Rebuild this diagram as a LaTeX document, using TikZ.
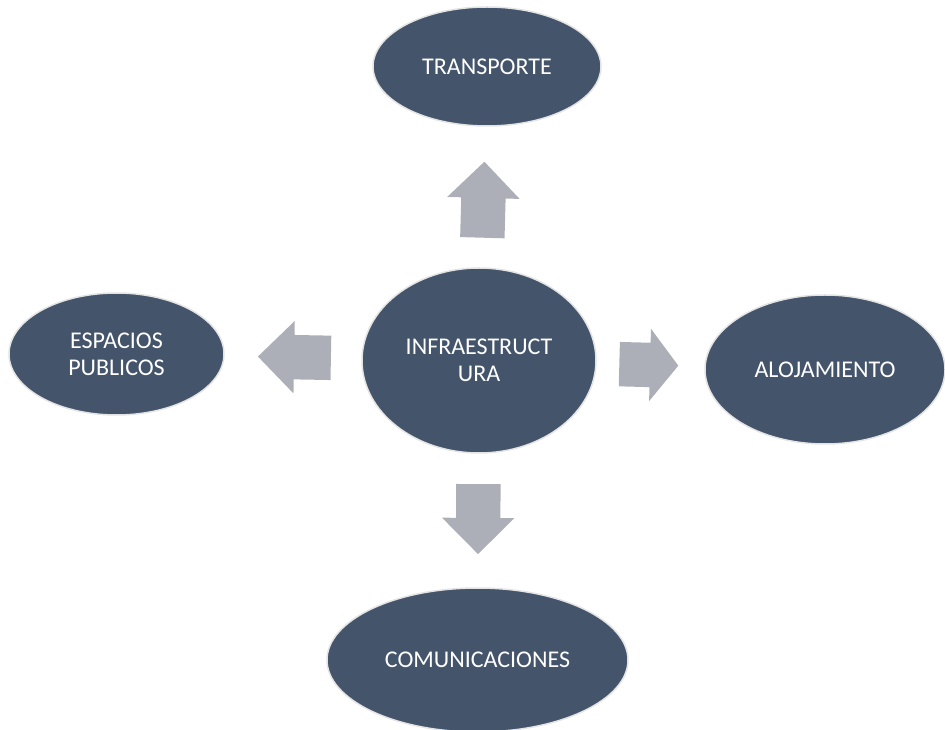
\documentclass[tikz,border=0pt]{standalone}
\usepackage{fontspec}
\setmainfont{Carlito}
\usepackage{xcolor}
\usetikzlibrary{shapes.geometric, shapes.arrows, positioning}

\definecolor{bubblefill}{HTML}{44546A}
\definecolor{bubbleline}{HTML}{E4E4E4}
\definecolor{arrowfill}{HTML}{ADAFB8}

\begin{document}
\begin{tikzpicture}[
        x=1pt, y=1pt,
        bubble/.style={ellipse, draw=bubbleline, line width=1.5pt, fill=bubblefill, text=white, align=center, inner sep=0pt, font=\fontsize{24}{27}\selectfont},
        blockarrow/.style={single arrow, fill=arrowfill, draw=none, inner xsep=0pt, inner ysep=22pt, single arrow head extend=14pt, single arrow tip angle=90, minimum height=#1, anchor=tail, sloped, allow upside down},
        blockarrow/.default=75pt
    ]
    \useasboundingbox (0,0) rectangle (945,729);

    % Central node
    \node[bubble, minimum width=234pt, minimum height=185pt] (infra) at (479,368.5) {INFRAESTRUCT\\URA};

    % Outer nodes
    \node[bubble, minimum width=228pt, minimum height=119pt] (transporte) at (487,662.5) {TRANSPORTE};
    \node[bubble, minimum width=215pt, minimum height=122pt] (espacios) at (116.5,375) {ESPACIOS\\PUBLICOS};
    \node[bubble, minimum width=240pt, minimum height=149pt] (alojamiento) at (825,359.5) {ALOJAMIENTO};
    \node[bubble, minimum width=301pt, minimum height=144pt] (comunicaciones) at (477.5,69) {COMUNICACIONES};

    % Block arrows
    \path (infra.center) -- node[blockarrow=76pt, pos=0.417] (to_transporte) {} (transporte.center);
    \path (infra.center) -- node[blockarrow=73pt, pos=0.408] (to_espacios) {} (espacios.center);
    \path (infra.center) -- node[blockarrow=59pt, single arrow tip angle=104, pos=0.405] (to_alojamiento) {} (alojamiento.center);
    \path (infra.center) -- node[blockarrow=70pt, pos=0.412] (to_comunicaciones) {} (comunicaciones.center);
\end{tikzpicture}
\end{document}
